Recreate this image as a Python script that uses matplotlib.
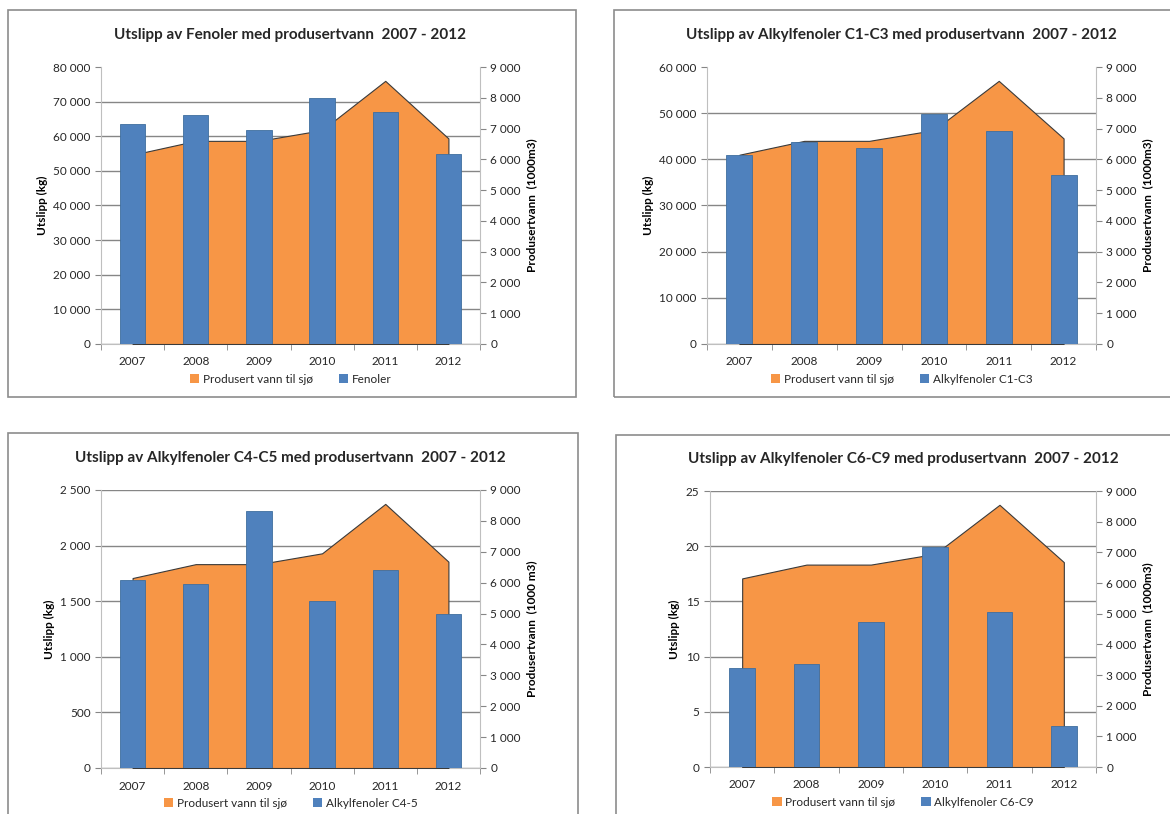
import numpy as np
import matplotlib
matplotlib.use("Agg")
import matplotlib.pyplot as plt
import matplotlib.patches as patches
from matplotlib.ticker import FuncFormatter

plt.rcParams['font.family'] = ['Lato', 'DejaVu Sans']

years = ["2007", "2008", "2009", "2010", "2011", "2012"]

# produsert vann til sjø (1000 m3), same in all four charts
produsert_vann = [6150, 6600, 6600, 6950, 8550, 6680]

fenoler = [63500, 66200, 61700, 71000, 66900, 55000]
alkyl_c1_c3 = [41000, 43700, 42500, 49900, 46100, 36500]
alkyl_c4_c5 = [1689, 1659, 2314, 1506, 1781, 1383]
alkyl_c6_c9 = [9.0, 9.3, 13.15, 19.95, 14.0, 3.75]

titles = [
    "Utslipp av Fenoler med produsertvann  2007 - 2012",
    "Utslipp av Alkylfenoler C1-C3 med produsertvann  2007 - 2012",
    "Utslipp av Alkylfenoler C4-C5 med produsertvann  2007 - 2012",
    "Utslipp av Alkylfenoler C6-C9 med produsertvann  2007 - 2012",
]
bar_labels = ["Fenoler", "Alkylfenoler C1-C3", "Alkylfenoler C4-5", "Alkylfenoler C6-C9"]
left_max = [80000, 60000, 2500, 25]
left_step = [10000, 10000, 500, 5]
right_label = ["Produsertvann  (1000m3)", "Produsertvann  (1000m3)",
               "Produsertvann  (1000 m3)", "Produsertvann  (1000m3)"]
top_grid = [False, False, True, True]
series = [fenoler, alkyl_c1_c3, alkyl_c4_c5, alkyl_c6_c9]

ORANGE = "#F79646"
BLUE = "#4F81BD"
GRID = "#868686"
TXT = "#262626"

W, H = 1170, 814
fig = plt.figure(figsize=(W / 100, H / 100), dpi=100)

# (axes left, right, top, bottom), (box left, right, top, bottom) in pixels
layout = [
    ((101, 480, 67, 344), (8, 576, 10, 397)),
    ((707, 1096, 67, 344), (614, 1180, 10, 397)),
    ((101, 480, 490, 768), (8, 578, 433, 830)),
    ((710, 1096, 491, 767), (616, 1180, 435, 830)),
]


def px_rect(l, r, t, b):
    return [l / W, 1 - b / H, (r - l) / W, (b - t) / H]


def fmt(v, pos):
    return f"{v:,.0f}".replace(",", " ")


x = np.arange(len(years))

for i in range(4):
    (al, ar, at, ab), (bl, br, bt, bb) = layout[i]

    # chart frame
    fig.patches.append(patches.Rectangle(
        (bl / W, 1 - bb / H), (br - bl) / W, (bb - bt) / H,
        transform=fig.transFigure, fill=False, edgecolor="#8C8C8C", linewidth=1.2))

    ax = fig.add_axes(px_rect(al, ar, at, ab))
    ax2 = ax.twinx()   # area, right axis
    ax3 = ax.twinx()   # bars on top, left scale

    ticks = np.arange(0, left_max[i] + left_step[i] / 2, left_step[i])
    ax.set_ylim(0, left_max[i])
    ax.set_yticks(ticks)
    ax.yaxis.set_major_formatter(FuncFormatter(fmt))
    ax.set_xlim(-0.5, len(years) - 0.5)
    ax.set_xticks(x)
    ax.set_xticklabels(years)
    ax.set_xticks(np.arange(-0.5, len(years)), minor=True)
    ax.tick_params(axis="x", which="major", length=0, labelsize=8.5, pad=9,
                   labelcolor=TXT)
    ax.tick_params(axis="x", which="minor", length=4, color=GRID)
    ax.tick_params(axis="y", length=4, color=GRID, labelsize=8.5, labelcolor=TXT)
    ax.grid(axis="y", color=GRID, linewidth=1)
    if not top_grid[i]:
        ax.yaxis.get_gridlines()[-1].set_visible(False)
    ax.set_ylabel("Utslipp (kg)", fontsize=8.5, fontweight="bold")
    for s in ["top", "right"]:
        ax.spines[s].set_visible(False)
    for s in ["left", "bottom"]:
        ax.spines[s].set_color("#BFBFBF")

    ax2.fill_between(x, produsert_vann, 0, facecolor=ORANGE, edgecolor="#3a3a3a",
                     linewidth=0.8)
    ax2.set_ylim(0, 9000)
    ax2.set_yticks(np.arange(0, 9001, 1000))
    ax2.yaxis.set_major_formatter(FuncFormatter(fmt))
    ax2.tick_params(axis="y", length=4, color=GRID, labelsize=8.5, labelcolor=TXT)
    ax2.set_ylabel(right_label[i], fontsize=8.5, fontweight="bold")
    for s in ["top", "left", "bottom"]:
        ax2.spines[s].set_visible(False)
    ax2.spines["right"].set_color("#BFBFBF")

    ax3.bar(x, series[i], width=0.4, color=BLUE, edgecolor="#3F6E9E", linewidth=0.6)
    ax3.set_ylim(0, left_max[i])
    ax3.set_yticks([])
    for s in ax3.spines.values():
        s.set_visible(False)

    ax.set_title(titles[i], fontsize=11, fontweight="bold", pad=20, color=TXT)

    handles = [patches.Patch(facecolor=ORANGE, label="Produsert vann til sjø"),
               patches.Patch(facecolor=BLUE, label=bar_labels[i])]
    ax.legend(handles=handles, loc="upper center", bbox_to_anchor=(0.5, -0.07),
              ncol=2, frameon=False, fontsize=8.5, handlelength=0.8, handleheight=0.8,
              handletextpad=0.3, columnspacing=2.2, labelcolor=TXT)

fig.savefig("out.png", dpi=100)
